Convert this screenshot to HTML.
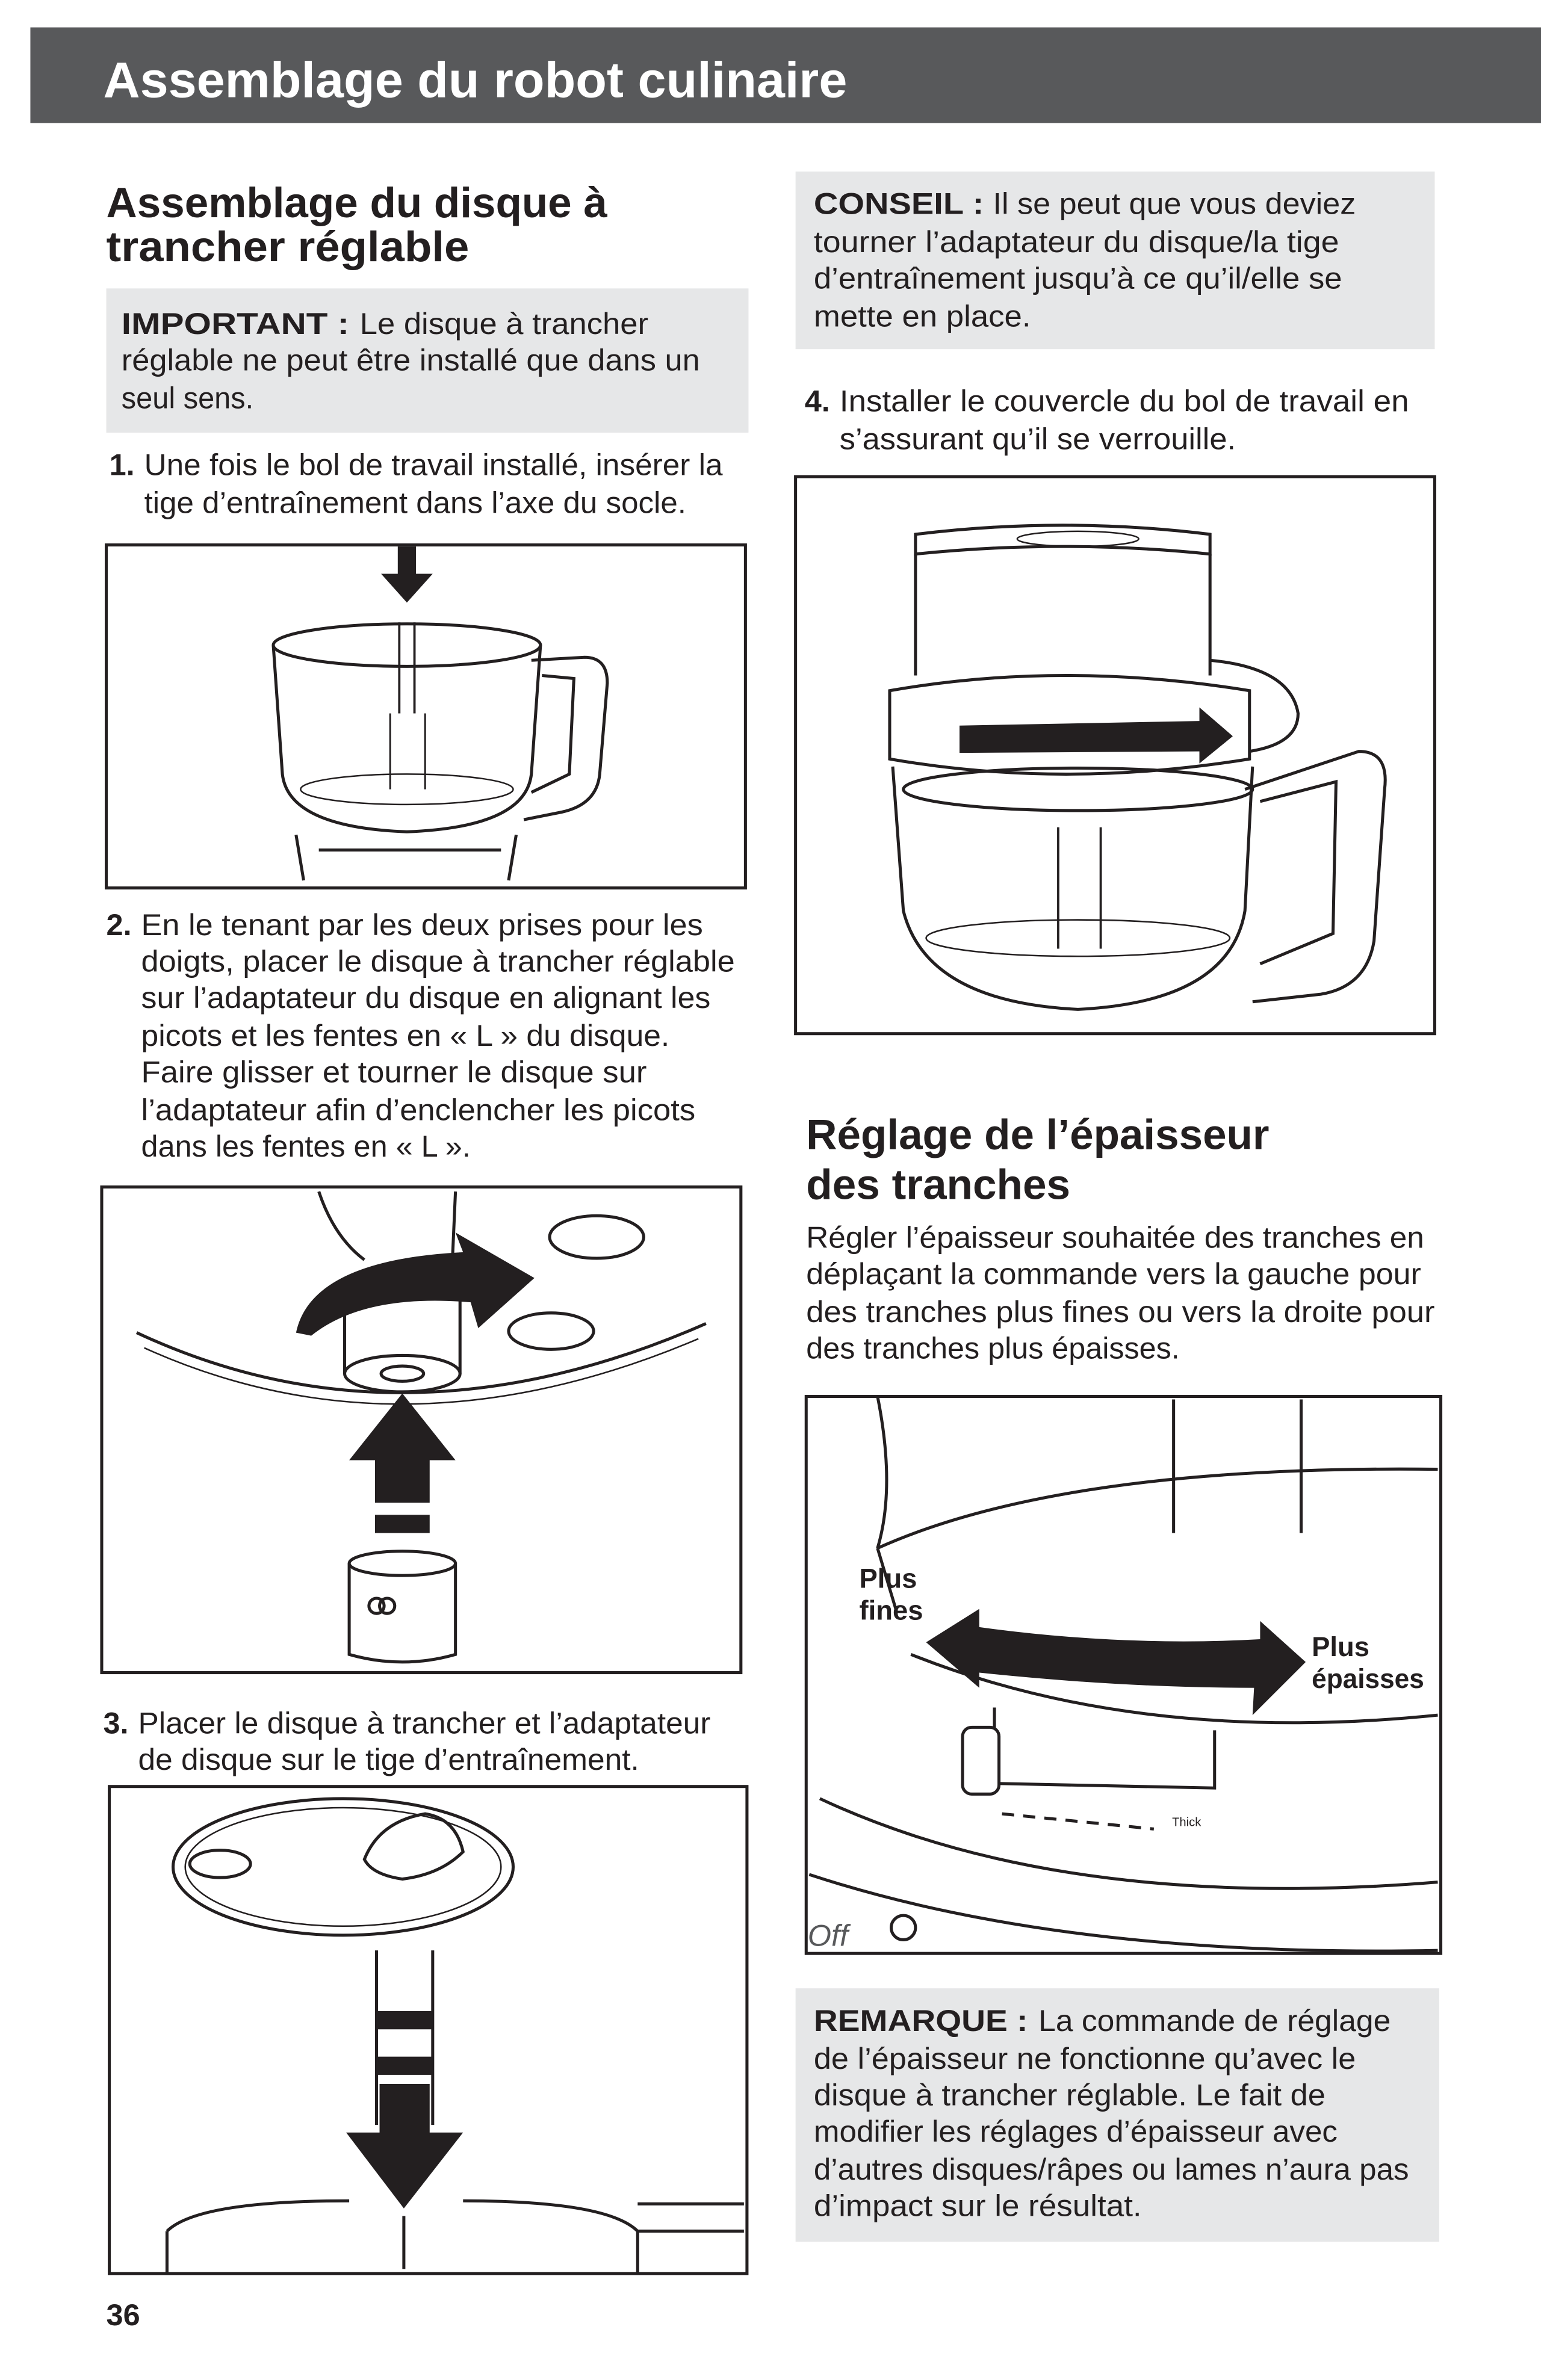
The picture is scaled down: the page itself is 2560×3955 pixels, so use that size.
<!DOCTYPE html>
<html><head><meta charset="utf-8"><style>
html,body{margin:0;padding:0;background:#fff}
svg{display:block}
text{font-family:"Liberation Sans",sans-serif;fill:#231f20}
.b{font-weight:bold}
</style></head><body>
<svg width="2560" height="3955" viewBox="0 0 1015 1568" xmlns="http://www.w3.org/2000/svg">
<rect x="0" y="0" width="1015" height="1568" fill="#fff"/>
<!-- header -->
<rect x="20" y="18" width="995" height="63" fill="#58595b"/>
<text x="68" y="64" font-size="33" class="b" style="fill:#fff" textLength="490" lengthAdjust="spacingAndGlyphs">Assemblage du robot culinaire</text>

<!-- left heading -->
<text x="70" y="143" font-size="28" class="b" textLength="330" lengthAdjust="spacingAndGlyphs">Assemblage du disque à</text>
<text x="70" y="172" font-size="28" class="b" textLength="239" lengthAdjust="spacingAndGlyphs">trancher réglable</text>

<!-- IMPORTANT -->
<rect x="70" y="190" width="423" height="95" fill="#e6e7e8"/>
<text x="80" y="220" font-size="20" class="b" textLength="150" lengthAdjust="spacingAndGlyphs">IMPORTANT :</text>
<text x="237" y="220" font-size="20" textLength="190" lengthAdjust="spacingAndGlyphs">Le disque à trancher</text>
<text x="80" y="244" font-size="20" textLength="381" lengthAdjust="spacingAndGlyphs">réglable ne peut être installé que dans un</text>
<text x="80" y="269" font-size="20" textLength="87" lengthAdjust="spacingAndGlyphs">seul sens.</text>

<text x="72" y="313" font-size="20" class="b">1.</text>
<text x="95" y="313" font-size="20" textLength="381" lengthAdjust="spacingAndGlyphs">Une fois le bol de travail installé, insérer la</text>
<text x="95" y="338" font-size="20" textLength="357" lengthAdjust="spacingAndGlyphs">tige d’entraînement dans l’axe du socle.</text>

<!-- box1 -->
<rect x="70" y="359" width="421" height="226" fill="#fff" stroke="#231f20" stroke-width="2"/>
<g fill="none" stroke="#231f20" stroke-width="2">
<path d="M180 425 L186 510 Q190 545 268 548 Q346 545 350 510 L356 425"/>
<ellipse cx="268" cy="425" rx="88" ry="14"/>
<path d="M350 435 L385 433 Q400 433 400 450 L395 510 Q393 530 370 535 L345 540"/>
<path d="M357 445 L378 447 L375 510 L350 522"/>
<ellipse cx="268" cy="520" rx="70" ry="10" stroke-width="1"/>
<path d="M257 470 L257 520 M280 470 L280 520" stroke-width="1.2"/>
<path d="M263 410 L263 470 M273 410 L273 470" stroke-width="1.5"/>
<path d="M195 550 L200 580 M340 550 L335 580 M210 560 L330 560"/>
</g>
<path d="M262 360 L274 360 L274 378 L285 378 L268 397 L251 378 L262 378 Z" fill="#231f20"/>

<text x="70" y="616" font-size="20" class="b">2.</text>
<text x="93" y="616" font-size="20" textLength="370" lengthAdjust="spacingAndGlyphs">En le tenant par les deux prises pour les</text>
<text x="93" y="640" font-size="20" textLength="391" lengthAdjust="spacingAndGlyphs">doigts, placer le disque à trancher réglable</text>
<text x="93" y="664" font-size="20" textLength="375" lengthAdjust="spacingAndGlyphs">sur l’adaptateur du disque en alignant les</text>
<text x="93" y="689" font-size="20" textLength="348" lengthAdjust="spacingAndGlyphs">picots et les fentes en « L » du disque.</text>
<text x="93" y="713" font-size="20" textLength="333" lengthAdjust="spacingAndGlyphs">Faire glisser et tourner le disque sur</text>
<text x="93" y="738" font-size="20" textLength="365" lengthAdjust="spacingAndGlyphs">l’adaptateur afin d’enclencher les picots</text>
<text x="93" y="762" font-size="20" textLength="217" lengthAdjust="spacingAndGlyphs">dans les fentes en « L ».</text>

<!-- box2 -->
<rect x="67" y="782" width="421" height="320" fill="#fff" stroke="#231f20" stroke-width="2"/>
<g fill="none" stroke="#231f20" stroke-width="2">
<path d="M90 878 Q265 960 465 872"/>
<path d="M95 888 Q265 965 460 882" stroke-width="1"/>
<ellipse cx="393" cy="815" rx="31" ry="14"/>
<ellipse cx="363" cy="877" rx="28" ry="12"/>
<path d="M227 845 L227 905 M303 845 L303 905"/>
<ellipse cx="265" cy="905" rx="38" ry="12"/>
<ellipse cx="265" cy="905" rx="14" ry="5"/>
<path d="M210 785 Q220 815 240 830 M300 785 L298 830"/>
<path d="M230 1030 L230 1090 Q265 1100 300 1090 L300 1030"/>
<ellipse cx="265" cy="1030" rx="35" ry="8"/>
<circle cx="248" cy="1058" r="5"/><circle cx="255" cy="1058" r="5"/>
</g>
<path d="M195 878 Q205 830 305 825 L300 812 L352 842 L315 875 L310 858 Q240 852 205 880 Z" fill="#231f20"/>
<path d="M265 918 L300 962 L283 962 L283 990 L247 990 L247 962 L230 962 Z" fill="#231f20"/>
<rect x="247" y="998" width="36" height="12" fill="#231f20"/>

<text x="68" y="1142" font-size="20" class="b">3.</text>
<text x="91" y="1142" font-size="20" textLength="377" lengthAdjust="spacingAndGlyphs">Placer le disque à trancher et l’adaptateur</text>
<text x="91" y="1166" font-size="20" textLength="330" lengthAdjust="spacingAndGlyphs">de disque sur le tige d’entraînement.</text>

<!-- box3 -->
<rect x="72" y="1177" width="420" height="321" fill="#fff" stroke="#231f20" stroke-width="2"/>
<g fill="none" stroke="#231f20" stroke-width="2">
<ellipse cx="226" cy="1230" rx="112" ry="45"/>
<ellipse cx="226" cy="1230" rx="104" ry="39" stroke-width="1"/>
<ellipse cx="145" cy="1228" rx="20" ry="9"/>
<path d="M240 1225 Q250 1200 280 1195 Q300 1198 305 1220 Q290 1235 265 1238 Q245 1235 240 1225 Z"/>
<path d="M248 1285 L248 1400 M285 1285 L285 1400"/>
<path d="M110 1470 Q130 1450 230 1450 M305 1450 Q400 1450 420 1470 L420 1498 M110 1470 L110 1498"/>
<path d="M420 1452 L490 1452 M420 1470 L490 1470"/>
<path d="M266 1460 L266 1495"/>
</g>
<rect x="248" y="1325" width="37" height="12" fill="#231f20"/>
<rect x="248" y="1355" width="37" height="12" fill="#231f20"/>
<path d="M250 1373 L283 1373 L283 1405 L305 1405 L266 1455 L228 1405 L250 1405 Z" fill="#231f20"/>

<text x="70" y="1532" font-size="20" class="b">36</text>

<!-- right column -->
<rect x="524" y="113" width="421" height="117" fill="#e6e7e8"/>
<text x="536" y="141" font-size="20" class="b" textLength="112" lengthAdjust="spacingAndGlyphs">CONSEIL :</text>
<text x="654" y="141" font-size="20" textLength="239" lengthAdjust="spacingAndGlyphs">Il se peut que vous deviez</text>
<text x="536" y="166" font-size="20" textLength="346" lengthAdjust="spacingAndGlyphs">tourner l’adaptateur du disque/la tige</text>
<text x="536" y="190" font-size="20" textLength="348" lengthAdjust="spacingAndGlyphs">d’entraînement jusqu’à ce qu’il/elle se</text>
<text x="536" y="215" font-size="20" textLength="143" lengthAdjust="spacingAndGlyphs">mette en place.</text>

<text x="530" y="271" font-size="20" class="b">4.</text>
<text x="553" y="271" font-size="20" textLength="375" lengthAdjust="spacingAndGlyphs">Installer le couvercle du bol de travail en</text>
<text x="553" y="296" font-size="20" textLength="261" lengthAdjust="spacingAndGlyphs">s’assurant qu’il se verrouille.</text>

<!-- box4 -->
<rect x="524" y="314" width="421" height="367" fill="#fff" stroke="#231f20" stroke-width="2"/>
<g fill="none" stroke="#231f20" stroke-width="2">
<path d="M603 352 Q700 340 797 352 L797 365 Q700 355 603 365 Z"/>
<path d="M603 365 L603 445 M797 365 L797 445"/>
<path d="M586 455 Q700 435 823 455 L823 500 Q700 520 586 500 Z"/>
<path d="M797 435 Q850 440 855 470 Q855 490 823 495"/>
<path d="M588 505 L595 600 Q610 660 710 665 Q810 660 820 600 L825 505"/>
<ellipse cx="710" cy="520" rx="115" ry="14"/>
<path d="M820 520 L895 495 Q915 495 912 520 L905 620 Q900 650 870 655 L825 660"/>
<path d="M830 528 L880 515 L878 615 L830 635"/>
<ellipse cx="710" cy="618" rx="100" ry="12" stroke-width="1"/>
<path d="M697 545 L697 625 M725 545 L725 625" stroke-width="1.5"/>
<ellipse cx="710" cy="355" rx="40" ry="5" stroke-width="1"/>
</g>
<path d="M632 478 L790 475 L790 466 L812 485 L790 503 L790 495 L632 496 Z" fill="#231f20"/>

<text x="531" y="757" font-size="28" class="b" textLength="305" lengthAdjust="spacingAndGlyphs">Réglage de l’épaisseur</text>
<text x="531" y="790" font-size="28" class="b" textLength="174" lengthAdjust="spacingAndGlyphs">des tranches</text>

<text x="531" y="822" font-size="20" textLength="407" lengthAdjust="spacingAndGlyphs">Régler l’épaisseur souhaitée des tranches en</text>
<text x="531" y="846" font-size="20" textLength="405" lengthAdjust="spacingAndGlyphs">déplaçant la commande vers la gauche pour</text>
<text x="531" y="871" font-size="20" textLength="414" lengthAdjust="spacingAndGlyphs">des tranches plus fines ou vers la droite pour</text>
<text x="531" y="895" font-size="20" textLength="246" lengthAdjust="spacingAndGlyphs">des tranches plus épaisses.</text>

<!-- box5 -->
<rect x="531" y="920" width="418" height="367" fill="#fff" stroke="#231f20" stroke-width="2"/>
<g fill="none" stroke="#231f20" stroke-width="2">
<path d="M773 922 L773 1010 M857 922 L857 1010"/>
<path d="M578 1020 Q700 965 947 968"/>
<path d="M578 1020 L590 1060 M578 920 Q590 980 578 1020"/>
<path d="M600 1090 Q750 1150 947 1130"/>
<path d="M655 1125 L655 1175 L800 1178 L800 1140"/>
<path d="M540 1185 Q700 1260 947 1240"/>
<path d="M533 1235 Q700 1290 947 1285"/>
<path d="M660 1195 L760 1205" stroke-dasharray="8 6"/>
<circle cx="595" cy="1270" r="8"/>
</g>
<rect x="634" y="1138" width="24" height="44" rx="6" fill="#fff" stroke="#231f20" stroke-width="2"/>
<path d="M610 1082 L645 1060 L645 1072 Q740 1085 830 1080 L830 1068 L860 1095 L825 1130 L826 1112 Q740 1112 645 1102 L645 1112 Z" fill="#231f20"/>
<text x="566" y="1046" font-size="18" class="b">Plus</text>
<text x="566" y="1067" font-size="18" class="b">fines</text>
<text x="864" y="1091" font-size="18" class="b">Plus</text>
<text x="864" y="1112" font-size="18" class="b" textLength="74" lengthAdjust="spacingAndGlyphs">épaisses</text>
<text x="772" y="1203" font-size="8">Thick</text>
<text x="532" y="1282" font-size="20" font-style="italic" style="fill:#58595b">Off</text>

<!-- REMARQUE -->
<rect x="524" y="1310" width="424" height="167" fill="#e6e7e8"/>
<text x="536" y="1338" font-size="20" class="b" textLength="141" lengthAdjust="spacingAndGlyphs">REMARQUE :</text>
<text x="684" y="1338" font-size="20" textLength="232" lengthAdjust="spacingAndGlyphs">La commande de réglage</text>
<text x="536" y="1363" font-size="20" textLength="357" lengthAdjust="spacingAndGlyphs">de l’épaisseur ne fonctionne qu’avec le</text>
<text x="536" y="1387" font-size="20" textLength="337" lengthAdjust="spacingAndGlyphs">disque à trancher réglable. Le fait de</text>
<text x="536" y="1411" font-size="20" textLength="345" lengthAdjust="spacingAndGlyphs">modifier les réglages d’épaisseur avec</text>
<text x="536" y="1436" font-size="20" textLength="392" lengthAdjust="spacingAndGlyphs">d’autres disques/râpes ou lames n’aura pas</text>
<text x="536" y="1460" font-size="20" textLength="216" lengthAdjust="spacingAndGlyphs">d’impact sur le résultat.</text>
</svg>
</body></html>
